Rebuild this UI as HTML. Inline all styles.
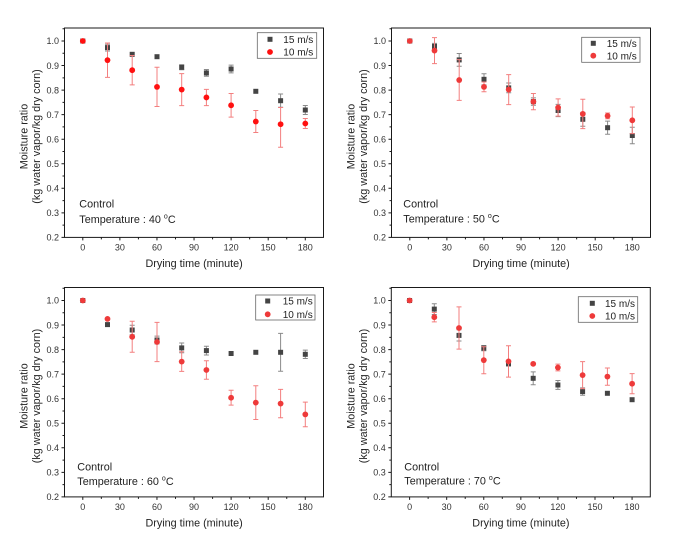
<!DOCTYPE html>
<html>
<head>
<meta charset="utf-8">
<style>
html,body{margin:0;padding:0;background:#fff;}
svg{display:block;font-family:"Liberation Sans",Arial,sans-serif;}
.fr{fill:none;stroke:#1a1a1a;stroke-width:1;}
.tk{stroke:#1a1a1a;stroke-width:1;fill:none;}
.yl{font-size:9px;fill:#333;text-anchor:end;}
.xl{font-size:9px;fill:#333;text-anchor:middle;}
.ti{font-size:10.8px;fill:#222;}
.lg{font-size:10px;fill:#222;}
.eg{stroke:#8a8a8a;stroke-width:1;fill:none;}
.er{stroke:#f37f7f;stroke-width:1;fill:none;}
.sq{fill:#444;}
.lb{fill:#fff;stroke:#666;stroke-width:0.8;}
</style>
</head>
<body>
<svg width="685" height="544" viewBox="0 0 685 544" xmlns="http://www.w3.org/2000/svg">
<defs>
<g id="axes">
  <rect class="fr" x="0" y="0" width="259" height="209.4"/>
  <path class="tk" d="M-3 13H0M-3 37.55H0M-3 62.1H0M-3 86.65H0M-3 111.2H0M-3 135.75H0M-3 160.3H0M-3 184.85H0M-3 209.4H0
  M-2 0.72H0M-2 25.28H0M-2 49.83H0M-2 74.38H0M-2 98.93H0M-2 123.48H0M-2 148.03H0M-2 172.58H0M-2 197.13H0
  M18.3 209.4V212.4M55.38 209.4V212.4M92.46 209.4V212.4M129.54 209.4V212.4M166.62 209.4V212.4M203.7 209.4V212.4M240.78 209.4V212.4
  M36.84 209.4V211.4M73.92 209.4V211.4M111 209.4V211.4M148.08 209.4V211.4M185.16 209.4V211.4M222.24 209.4V211.4"/>
  <text class="yl" x="-5.5" y="16.2">1.0</text>
  <text class="yl" x="-5.5" y="40.75">0.9</text>
  <text class="yl" x="-5.5" y="65.3">0.8</text>
  <text class="yl" x="-5.5" y="89.85">0.7</text>
  <text class="yl" x="-5.5" y="114.4">0.6</text>
  <text class="yl" x="-5.5" y="138.95">0.5</text>
  <text class="yl" x="-5.5" y="163.5">0.4</text>
  <text class="yl" x="-5.5" y="188.05">0.3</text>
  <text class="yl" x="-5.5" y="212.6">0.2</text>
  <text class="xl" x="18.3" y="222.4">0</text>
  <text class="xl" x="55.38" y="222.4">30</text>
  <text class="xl" x="92.46" y="222.4">60</text>
  <text class="xl" x="129.54" y="222.4">90</text>
  <text class="xl" x="166.62" y="222.4">120</text>
  <text class="xl" x="203.7" y="222.4">150</text>
  <text class="xl" x="240.78" y="222.4">180</text>
  <text class="ti" x="129.6" y="239" text-anchor="middle">Drying time (minute)</text>
  <text class="ti" transform="translate(-37,108.5) rotate(-90)" text-anchor="middle">Moisture ratio</text>
  <text class="ti" transform="translate(-24.5,108.5) rotate(-90)" text-anchor="middle">(kg water vapor/kg dry corn)</text>
</g>
</defs>

<!-- Panel 1 : 40 C -->
<g transform="translate(64.5,28)">
  <use href="#axes"/>
  <path class="eg" d="M43 16.2V23M40.5 16.2h5M40.5 23h5M117.2 36.8V41.8M114.7 36.8h5M114.7 41.8h5M141.9 41.5V48.3M139.4 41.5h5M139.4 48.3h5M166.6 37.1V44.9M164.1 37.1h5M164.1 44.9h5M216.1 66V79.3M213.6 66h5M213.6 79.3h5M240.8 77.5V86.5M238.3 77.5h5M238.3 86.5h5"/>
  <g class="sq">
    <rect x="15.8" y="10.5" width="5" height="5"/><rect x="40.5" y="17.1" width="5" height="5"/><rect x="65.2" y="23.8" width="5" height="5"/><rect x="90" y="26.2" width="5" height="5"/><rect x="114.7" y="36.8" width="5" height="5"/><rect x="139.4" y="42.4" width="5" height="5"/><rect x="164.1" y="38.5" width="5" height="5"/><rect x="188.8" y="60.8" width="5" height="5"/><rect x="213.6" y="70.2" width="5" height="5"/><rect x="238.3" y="79.5" width="5" height="5"/>
  </g>
  <path class="er" stroke="#f58a8a" d="M43 15V49.4M40.5 15h5M40.5 49.4h5M67.7 27.5V56.9M65.2 27.5h5M65.2 56.9h5M92.5 39.3V78.5M90 39.3h5M90 78.5h5M117.2 45.6V77.6M114.7 45.6h5M114.7 77.6h5M141.9 61.4V77.6M139.4 61.4h5M139.4 77.6h5M166.6 65.5V89.1M164.1 65.5h5M164.1 89.1h5M191.3 82.5V104.5M188.8 82.5h5M188.8 104.5h5M216.1 79.5V119.3M213.6 79.5h5M213.6 119.3h5M240.8 90.5V100.5M238.3 90.5h5M238.3 100.5h5"/>
  <g fill="#ff1010">
    <circle cx="18.3" cy="13" r="2.9"/><circle cx="43" cy="32.15" r="2.9"/><circle cx="67.7" cy="42.21" r="2.9"/><circle cx="92.5" cy="58.91" r="2.9"/><circle cx="117.2" cy="61.61" r="2.9"/><circle cx="141.9" cy="69.46" r="2.9"/><circle cx="166.6" cy="77.32" r="2.9"/><circle cx="191.3" cy="93.52" r="2.9"/><circle cx="216.1" cy="96.22" r="2.9"/><circle cx="240.8" cy="95.49" r="2.9"/>
  </g>
  <rect class="lb" x="192.8" y="4.7" width="59.4" height="25.6"/>
  <rect class="sq" x="203" y="8.8" width="5" height="5"/>
  <circle cx="205.5" cy="24" r="2.9" fill="#ff1010"/>
  <text class="lg" x="218.8" y="14.9">15 m/s</text>
  <text class="lg" x="218.8" y="27.6">10 m/s</text>
  <text class="ti" x="14.8" y="179.5">Control</text>
  <text class="ti" x="14.8" y="195">Temperature : 40 <tspan font-size="7" dy="-4.5">o</tspan><tspan dy="4.5">C</tspan></text>
</g>

<!-- Panel 2 : 50 C -->
<g transform="translate(391.5,28)">
  <use href="#axes"/>
  <path class="eg" d="M43 15.4V21.4M40.5 15.4h5M40.5 21.4h5M67.7 25.5V38.3M65.2 25.5h5M65.2 38.3h5M92.5 45.7V56.9M90 45.7h5M90 56.9h5M117.2 55V64.8M114.7 55h5M114.7 64.8h5M141.9 69.9V77.3M139.4 69.9h5M139.4 77.3h5M166.6 76.4V88.6M164.1 76.4h5M164.1 88.6h5M191.3 84.4V98.2M188.8 84.4h5M188.8 98.2h5M216.1 93.1V106.3M213.6 93.1h5M213.6 106.3h5M240.8 99.2V115.8M238.3 99.2h5M238.3 115.8h5"/>
  <g class="sq">
    <rect x="15.8" y="10.5" width="5" height="5"/><rect x="40.5" y="15.9" width="5" height="5"/><rect x="65.2" y="29.4" width="5" height="5"/><rect x="90" y="48.8" width="5" height="5"/><rect x="114.7" y="57.4" width="5" height="5"/><rect x="139.4" y="71.1" width="5" height="5"/><rect x="164.1" y="80" width="5" height="5"/><rect x="188.8" y="88.8" width="5" height="5"/><rect x="213.6" y="97.2" width="5" height="5"/><rect x="238.3" y="105" width="5" height="5"/>
  </g>
  <path class="er" d="M43 9.6V35.6M40.5 9.6h5M40.5 35.6h5M67.7 31.6V72.4M65.2 31.6h5M65.2 72.4h5M92.5 54V63.8M90 54h5M90 63.8h5M117.2 46.6V76.6M114.7 46.6h5M114.7 76.6h5M141.9 65.5V81.7M139.4 65.5h5M139.4 81.7h5M166.6 70.9V88.1M164.1 70.9h5M164.1 88.1h5M191.3 71.2V100.6M188.8 71.2h5M188.8 100.6h5M216.1 85V90.8M213.6 85h5M213.6 90.8h5M240.8 79V105.6M238.3 79h5M238.3 105.6h5"/>
  <g fill="#ee3a3a">
    <circle cx="18.3" cy="13" r="2.9"/><circle cx="43" cy="22.57" r="2.9"/><circle cx="67.7" cy="52.03" r="2.9"/><circle cx="92.5" cy="58.91" r="2.9"/><circle cx="117.2" cy="61.61" r="2.9"/><circle cx="141.9" cy="73.64" r="2.9"/><circle cx="166.6" cy="79.53" r="2.9"/><circle cx="191.3" cy="85.91" r="2.9"/><circle cx="216.1" cy="87.88" r="2.9"/><circle cx="240.8" cy="92.3" r="2.9"/>
  </g>
  <rect class="lb" x="190.2" y="9.3" width="58.3" height="25"/>
  <rect class="sq" x="199.3" y="12.8" width="5" height="5"/>
  <circle cx="201.8" cy="27.7" r="2.9" fill="#ee3a3a"/>
  <text class="lg" x="215.2" y="18.9">15 m/s</text>
  <text class="lg" x="215.2" y="31.3">10 m/s</text>
  <text class="ti" x="11.8" y="179.3">Control</text>
  <text class="ti" x="11.8" y="194.7">Temperature : 50 <tspan font-size="7" dy="-4.5">o</tspan><tspan dy="4.5">C</tspan></text>
</g>

<!-- Panel 3 : 60 C -->
<g transform="translate(64.5,287.5)">
  <use href="#axes"/>
  <path class="eg" d="M67.7 37.8V47.2M65.2 37.8h5M65.2 47.2h5M92.5 48.6V56.4M90 48.6h5M90 56.4h5M117.2 55.5V65.3M114.7 55.5h5M114.7 65.3h5M141.9 58.7V67.5M139.4 58.7h5M139.4 67.5h5M216.1 45.9V83.7M213.6 45.9h5M213.6 83.7h5M240.8 62.6V71M238.3 62.6h5M238.3 71h5"/>
  <g class="sq">
    <rect x="15.8" y="10.5" width="5" height="5"/><rect x="40.5" y="34.6" width="5" height="5"/><rect x="65.2" y="40" width="5" height="5"/><rect x="90" y="50" width="5" height="5"/><rect x="114.7" y="57.9" width="5" height="5"/><rect x="139.4" y="60.6" width="5" height="5"/><rect x="164.1" y="63.5" width="5" height="5"/><rect x="188.8" y="62.3" width="5" height="5"/><rect x="213.6" y="62.3" width="5" height="5"/><rect x="238.3" y="64.3" width="5" height="5"/>
  </g>
  <path class="er" d="M67.7 33.8V64.8M65.2 33.8h5M65.2 64.8h5M92.5 34.9V74.1M90 34.9h5M90 74.1h5M117.2 64.3V83.9M114.7 64.3h5M114.7 83.9h5M141.9 73.2V91.8M139.4 73.2h5M139.4 91.8h5M166.6 102.8V117.6M164.1 102.8h5M164.1 117.6h5M191.3 98.2V132M188.8 98.2h5M188.8 132h5M216.1 101.9V130.3M213.6 101.9h5M213.6 130.3h5M240.8 114.6V139.2M238.3 114.6h5M238.3 139.2h5"/>
  <g fill="#ee3a3a">
    <circle cx="18.3" cy="13" r="2.9"/><circle cx="43" cy="31.41" r="2.9"/><circle cx="67.7" cy="49.33" r="2.9"/><circle cx="92.5" cy="54.49" r="2.9"/><circle cx="117.2" cy="74.13" r="2.9"/><circle cx="141.9" cy="82.48" r="2.9"/><circle cx="166.6" cy="110.22" r="2.9"/><circle cx="191.3" cy="115.13" r="2.9"/><circle cx="216.1" cy="116.11" r="2.9"/><circle cx="240.8" cy="126.91" r="2.9"/>
  </g>
  <rect class="lb" x="191.2" y="7.5" width="59.3" height="25"/>
  <rect class="sq" x="200.7" y="11" width="5" height="5"/>
  <circle cx="203.2" cy="26.8" r="2.9" fill="#ee3a3a"/>
  <text class="lg" x="218.2" y="17.1">15 m/s</text>
  <text class="lg" x="218.2" y="30.4">10 m/s</text>
  <text class="ti" x="12.8" y="182.8">Control</text>
  <text class="ti" x="12.8" y="197.5">Temperature : 60 <tspan font-size="7" dy="-4.5">o</tspan><tspan dy="4.5">C</tspan></text>
</g>

<!-- Panel 4 : 70 C -->
<g transform="translate(391.3,287.5)">
  <use href="#axes"/>
  <path class="eg" d="M43 16.2V27M40.5 16.2h5M40.5 27h5M67.7 42.3V53.5M65.2 42.3h5M65.2 53.5h5M92.5 58V63.2M90 58h5M90 63.2h5M117.2 73.6V78.6M114.7 73.6h5M114.7 78.6h5M141.9 84.4V97.2M139.4 84.4h5M139.4 97.2h5M166.6 93V101.9M164.1 93h5M164.1 101.9h5M191.3 100.4V107.8M188.8 100.4h5M188.8 107.8h5"/>
  <g class="sq">
    <rect x="15.8" y="10.5" width="5" height="5"/><rect x="40.5" y="19.1" width="5" height="5"/><rect x="65.2" y="45.4" width="5" height="5"/><rect x="90" y="58.1" width="5" height="5"/><rect x="114.7" y="73.6" width="5" height="5"/><rect x="139.4" y="88.3" width="5" height="5"/><rect x="164.1" y="95" width="5" height="5"/><rect x="188.8" y="101.6" width="5" height="5"/><rect x="213.6" y="103.3" width="5" height="5"/><rect x="238.3" y="109.7" width="5" height="5"/>
  </g>
  <path class="er" d="M43 25V34.4M40.5 25h5M40.5 34.4h5M67.7 19.4V61.6M65.2 19.4h5M65.2 61.6h5M92.5 59.2V86.2M90 59.2h5M90 86.2h5M117.2 58.2V89.6M114.7 58.2h5M114.7 89.6h5M166.6 76.6V83.4M164.1 76.6h5M164.1 83.4h5M191.3 74.1V101.1M188.8 74.1h5M188.8 101.1h5M216.1 80.5V97.7M213.6 80.5h5M213.6 97.7h5M240.8 86.1V106.3M238.3 86.1h5M238.3 106.3h5"/>
  <g fill="#ee3a3a">
    <circle cx="18.3" cy="13" r="2.9"/><circle cx="43" cy="29.69" r="2.9"/><circle cx="67.7" cy="40.5" r="2.9"/><circle cx="92.5" cy="72.66" r="2.9"/><circle cx="117.2" cy="73.88" r="2.9"/><circle cx="141.9" cy="76.34" r="2.9"/><circle cx="166.6" cy="80.02" r="2.9"/><circle cx="191.3" cy="87.63" r="2.9"/><circle cx="216.1" cy="89.1" r="2.9"/><circle cx="240.8" cy="96.22" r="2.9"/>
  </g>
  <rect class="lb" x="187" y="9.2" width="59.4" height="25.6"/>
  <rect class="sq" x="198.5" y="13.3" width="5" height="5"/>
  <circle cx="201" cy="28.5" r="2.9" fill="#ee3a3a"/>
  <text class="lg" x="213.7" y="19.4">15 m/s</text>
  <text class="lg" x="213.7" y="32.1">10 m/s</text>
  <text class="ti" x="13" y="182.8">Control</text>
  <text class="ti" x="13" y="196.8">Temperature : 70 <tspan font-size="7" dy="-4.5">o</tspan><tspan dy="4.5">C</tspan></text>
</g>
</svg>
</body>
</html>
